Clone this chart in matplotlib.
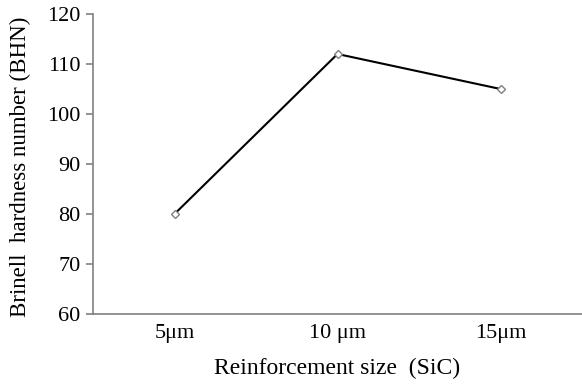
import matplotlib
matplotlib.use("Agg")
import matplotlib.pyplot as plt

categories = ["5μm", "10 μm", "15μm"]
hardness = [80, 112, 105]
yticks = [60, 70, 80, 90, 100, 110, 120]

plt.rcParams['font.family'] = ['Liberation Serif', 'DejaVu Serif']

W, H = 582, 384
fig = plt.figure(figsize=(W/100, H/100), dpi=100)
L, B, T = 93, 314, 14
ax = fig.add_axes([L/W, 1 - B/H, 1 - L/W, (B - T)/H])

x = list(range(len(categories)))
ax.plot(x, hardness, color='black', linewidth=1.5, marker='D', markersize=4.5,
        markerfacecolor='white', markeredgecolor='#808080', markeredgewidth=1.0, zorder=3)

ax.set_xlim(-0.5, 2.5)
ax.set_ylim(60, 120)
ax.set_yticks(yticks)
ax.set_xticks(x)
ax.set_xticklabels(categories)

for s in ['top', 'right']:
    ax.spines[s].set_visible(False)
for s in ['left', 'bottom']:
    ax.spines[s].set_color('#808080')
    ax.spines[s].set_linewidth(1.2)

ax.tick_params(axis='y', direction='out', length=5, color='#808080', width=1.2,
               labelsize=16, pad=4)
ax.tick_params(axis='x', length=0, labelsize=16, pad=7)

ax.set_ylabel("Brinell  hardness number (BHN)", fontsize=16.5, va='center')
ax.yaxis.set_label_coords((20 - L) / (W - L), 0.49)
ax.set_xlabel("Reinforcement size  (SiC)", fontsize=17, va='center')
ax.xaxis.set_label_coords(0.5, (B - 368) / (B - T))

fig.savefig("out.png", dpi=100)
